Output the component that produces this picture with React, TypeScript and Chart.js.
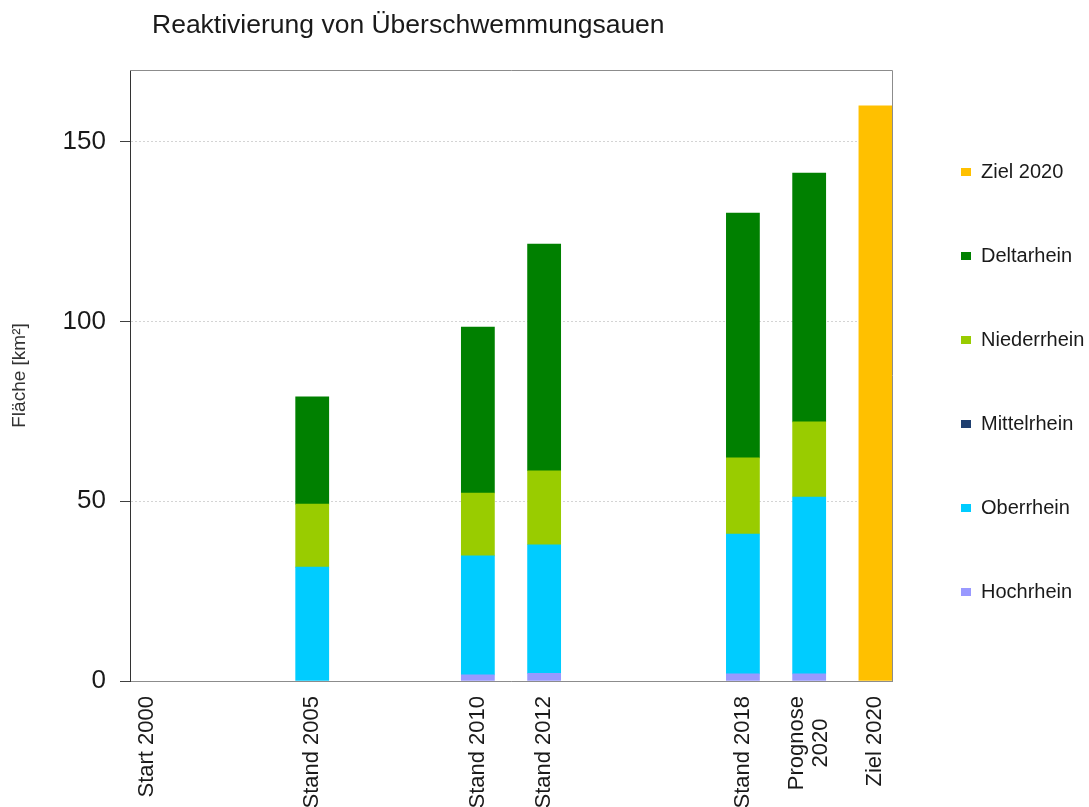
import React, { useEffect, useRef } from 'react';
import { Chart, registerables } from 'chart.js';

Chart.register(...registerables);

// One slot per year 2000..2022 (gaps are empty years)
const categories: (string | string[])[] = [
  'Start 2000', '', '', '', '', 'Stand 2005', '', '', '', '', 'Stand 2010', '', 'Stand 2012',
  '', '', '', '', '', 'Stand 2018', '', ['Prognose', '2020'], '', 'Ziel 2020',
];

const hochrhein = [null, null, null, null, null, null, null, null, null, null, 1.7, null, 2.1, null, null, null, null, null, 2.0, null, 2.0, null, null];
const oberrhein = [null, null, null, null, null, 31.7, null, null, null, null, 33.1, null, 35.8, null, null, null, null, null, 38.9, null, 49.2, null, null];
const mittelrhein = [null, null, null, null, null, null, null, null, null, null, null, null, null, null, null, null, null, null, null, null, null, null, null];
const niederrhein = [null, null, null, null, null, 17.5, null, null, null, null, 17.5, null, 20.6, null, null, null, null, null, 21.2, null, 20.9, null, null];
const deltarhein = [null, null, null, null, null, 29.9, null, null, null, null, 46.2, null, 63.1, null, null, null, null, null, 68.1, null, 69.2, null, null];
const ziel2020 = [null, null, null, null, null, null, null, null, null, null, null, null, null, null, null, null, null, null, null, null, null, null, 160];

const yTicks = [0, 50, 100, 150];

const FONT = "'Liberation Sans', Arial, sans-serif";
const X_FONT_SIZE = 22;

const framePlugin = {
  id: 'frame',
  afterLayout(chart: any) {
    if (chart.titleBlock) {
      chart.titleBlock.left = 152;
    }
    if (chart.legend) {
      chart.legend.left += 5;
      chart.legend.right += 5;
      chart.legend.top -= 21.5;
      chart.legend.bottom -= 21.5;
    }
  },
  beforeDraw(chart: any) {
    // center multi-line rotated x labels around their tick
    const xs = chart.scales.x;
    const items = xs.getLabelItems();
    const ctx = chart.ctx;
    ctx.save();
    ctx.font = `${X_FONT_SIZE}px ${FONT}`;
    for (const it of items) {
      if (Array.isArray(it.label) && !it._centered) {
        const lh = it.font.lineHeight;
        const maxW = Math.max(...it.label.map((s: string) => ctx.measureText(s).width));
        it.options.textAlign = 'center';
        it.options.translation[1] += maxW / 2;
        it.options.translation[0] -= ((it.label.length - 1) * lh) / 2;
        it._centered = true;
      }
    }
    ctx.restore();
  },
  afterDatasetsDraw(chart: any) {
    const { ctx, chartArea } = chart;
    ctx.save();
    ctx.strokeStyle = '#8c8c8c';
    ctx.lineWidth = 1;
    ctx.beginPath();
    ctx.moveTo(chartArea.left, chartArea.top + 0.5);
    ctx.lineTo(chartArea.right + 0.5, chartArea.top + 0.5);
    ctx.lineTo(chartArea.right + 0.5, chartArea.bottom);
    ctx.stroke();
    ctx.restore();
  },
};

export default function App() {
  const ref = useRef<HTMLCanvasElement>(null);

  useEffect(() => {
    if (!ref.current) return;
    const mk = (label: string, data: (number | null)[], color: string) => ({
      label,
      data,
      backgroundColor: color,
      borderWidth: 0,
      barPercentage: 1,
      categoryPercentage: 1,
      stack: 's',
    });
    const chart = new Chart(ref.current, {
      type: 'bar',
      data: {
        labels: categories,
        datasets: [
          mk('Hochrhein', hochrhein, '#9999FF'),
          mk('Oberrhein', oberrhein, '#00CCFF'),
          mk('Mittelrhein', mittelrhein, '#1F3F70'),
          mk('Niederrhein', niederrhein, '#99CC00'),
          mk('Deltarhein', deltarhein, '#008000'),
          mk('Ziel 2020', ziel2020, '#FFC000'),
        ],
      },
      plugins: [framePlugin],
      options: {
        responsive: false,
        animation: false,
        devicePixelRatio: 1,
        layout: { padding: { left: 0, right: 0, top: 0, bottom: 0 } },
        plugins: {
          tooltip: { enabled: false },
          title: {
            display: true,
            text: 'Reaktivierung von Überschwemmungsauen',
            align: 'start',
            color: '#1a1a1a',
            font: { family: FONT, size: 26.5, weight: 'normal', lineHeight: 1.2 },
            padding: { top: 9.6, bottom: 28.6 },
          },
          legend: {
            position: 'right',
            reverse: true,
            maxWidth: 197,
            labels: {
              boxWidth: 10,
              boxHeight: 8,
              padding: 64,
              color: '#1a1a1a',
              font: { family: FONT, size: 20 },
            },
          },
        },
        scales: {
          x: {
            stacked: true,
            grid: { display: false, drawTicks: false },
            border: { display: true, color: '#8c8c8c', width: 1 },
            ticks: {
              autoSkip: false,
              minRotation: 90,
              maxRotation: 90,
              padding: 15,
              color: '#1a1a1a',
              font: { family: FONT, size: X_FONT_SIZE, lineHeight: 1.1 },
            },
            afterFit: (axis: any) => {
              axis.height = 126;
            },
          },
          y: {
            stacked: true,
            min: 0,
            max: 170,
            afterBuildTicks: (axis: any) => {
              axis.ticks = yTicks.map((v) => ({ value: v }));
            },
            grid: {
              color: '#d4d4d4',
              lineWidth: 1,
              drawTicks: true,
              tickLength: 10,
              tickColor: '#404040',
              tickWidth: 1,
            },
            border: { display: true, color: '#333333', width: 1, dash: [2, 2] },
            ticks: {
              padding: 14,
              color: '#1a1a1a',
              font: { family: FONT, size: 26 },
            },
            title: {
              display: true,
              text: 'Fläche [km²]',
              color: '#333333',
              font: { family: FONT, size: 19, lineHeight: 1.2 },
              padding: { top: 8.6, bottom: 0 },
            },
            afterFit: (axis: any) => {
              axis.width = 130;
            },
          },
        },
      },
    });
    return () => chart.destroy();
  }, []);

  return (
    <div style={{ position: 'absolute', left: 0, top: 0, width: 1089, height: 807, background: '#fff' }}>
      <canvas ref={ref} width={1089} height={807} />
    </div>
  );
}
